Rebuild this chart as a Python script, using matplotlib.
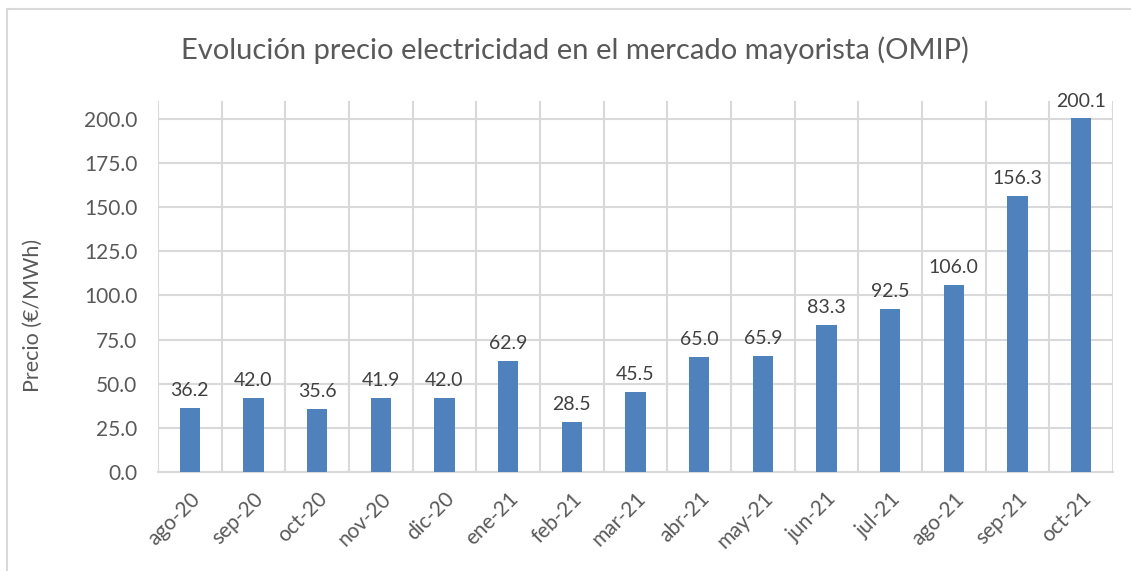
import matplotlib.pyplot as plt
import matplotlib as mpl
import numpy as np
from matplotlib.patches import Rectangle

months = ["ago-20", "sep-20", "oct-20", "nov-20", "dic-20", "ene-21", "feb-21", "mar-21",
          "abr-21", "may-21", "jun-21", "jul-21", "ago-21", "sep-21", "oct-21"]
prices = [36.2, 42.0, 35.6, 41.9, 42.0, 62.9, 28.5, 45.5, 65.0, 65.9, 83.3, 92.5, 106.0, 156.3, 200.1]
y_ticks = [0, 25, 50, 75, 100, 125, 150, 175, 200]

BAR_COLOR = "#4F81BD"
GRID_COLOR = "#D9D9D9"
TEXT_COLOR = "#595959"

mpl.rcParams["font.family"] = ["Lato", "DejaVu Sans"]

fig = plt.figure(figsize=(11.31, 5.71), dpi=100)
ax = fig.add_axes([158 / 1131, 1 - 472 / 571, (1113 - 158) / 1131, (472 - 101) / 571])

x = np.arange(len(months))
ax.bar(x, prices, width=0.32, color=BAR_COLOR, zorder=3)
for xi, v in zip(x, prices):
    ax.text(xi, v + 5, f"{v:.1f}", ha="center", va="bottom", fontsize=14, color="#404040")

ax.set_xlim(-0.5, len(months) - 0.5)
ax.set_ylim(0, 210)
ax.set_yticks(y_ticks, [f"{t:.1f}" for t in y_ticks])
ax.set_xticks(x, months, rotation=45, ha="right", rotation_mode="anchor")
ax.set_xticks(np.arange(-0.5, len(months)), minor=True)
ax.tick_params(axis="both", which="both", length=0, colors=TEXT_COLOR, labelsize=15)
ax.tick_params(axis="x", pad=12)
ax.tick_params(axis="y", pad=15)

ax.grid(axis="y", which="major", color=GRID_COLOR, linewidth=1.5, zorder=0)
ax.grid(axis="x", which="minor", color=GRID_COLOR, linewidth=1.5, zorder=0)
for s in ["top", "right", "left"]:
    ax.spines[s].set_visible(False)
ax.spines["bottom"].set_color(GRID_COLOR)
ax.spines["bottom"].set_linewidth(1.5)

ax.set_ylabel("Precio (€/MWh)", fontsize=15.5, color=TEXT_COLOR, va="center")
ax.yaxis.set_label_coords(-0.131, 0.423)
fig.text(0.508, 1 - 50 / 571, "Evolución precio electricidad en el mercado mayorista (OMIP)",
         ha="center", va="center", fontsize=21, color=TEXT_COLOR)

fig.patches.append(Rectangle((7 / 1131, -0.1), 1.2, 1 - 9 / 571 + 0.1, transform=fig.transFigure,
                             fill=False, edgecolor=GRID_COLOR, linewidth=1.5))

fig.savefig("out.png", dpi=100)
